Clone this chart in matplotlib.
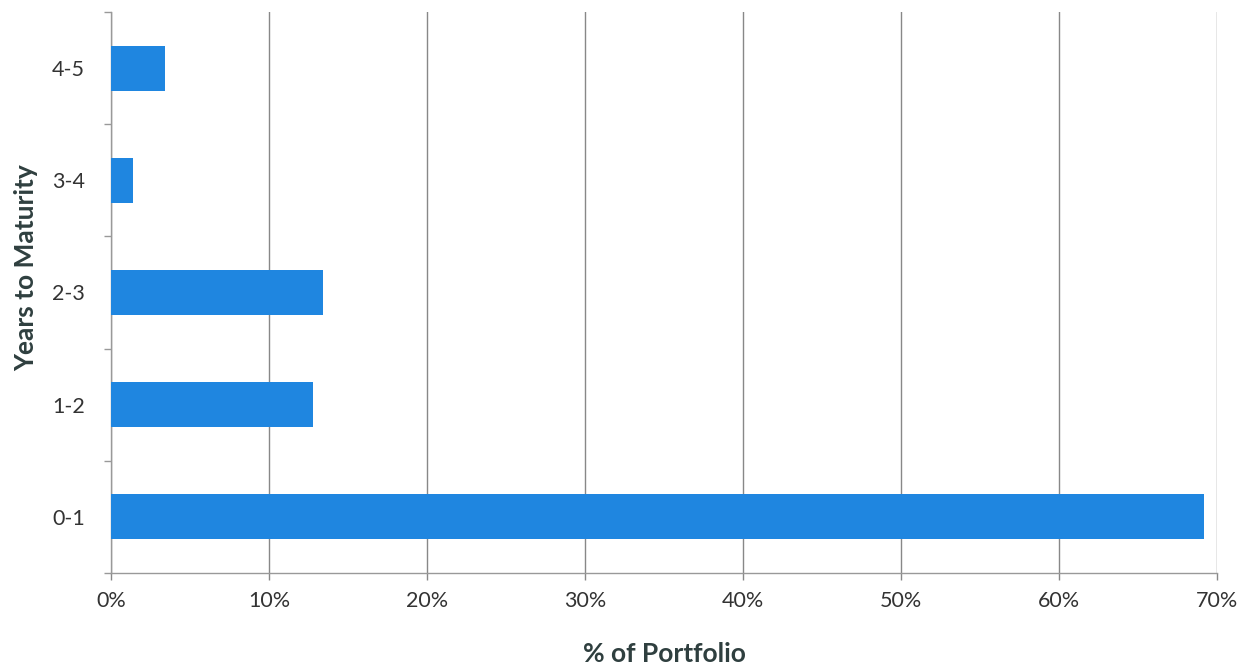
import numpy as np
import matplotlib.pyplot as plt
from matplotlib.ticker import FixedLocator

# years-to-maturity buckets and share of portfolio (%)
buckets = ['0-1', '1-2', '2-3', '3-4', '4-5']
share = [69.2, 12.8, 13.4, 1.4, 3.4]
xticks = [0, 10, 20, 30, 40, 50, 60, 70]
xticklabels = ['0%', '10%', '20%', '30%', '40%', '50%', '60%', '70%']

plt.rcParams['font.family'] = ['Lato', 'DejaVu Sans']

fig = plt.figure(figsize=(12.52, 6.70), dpi=100)
ax = fig.add_axes([0.0887, 0.1448, 0.8834, 0.8373])

y = np.arange(len(buckets))
ax.barh(y, share, height=0.4, color='#1f86e0', zorder=3)

ax.set_xlim(0, 70)
ax.set_ylim(-0.5, len(buckets) - 0.5)

ax.set_xticks(xticks)
ax.set_xticklabels(xticklabels, fontsize=15.5, color='#333333')
ax.set_yticks(y)
ax.set_yticklabels(buckets, fontsize=15.5, color='#333333')
ax.yaxis.set_minor_locator(FixedLocator(np.arange(-0.5, len(buckets), 1.0)))

ax.tick_params(axis='y', which='major', length=0, pad=19)
ax.tick_params(axis='y', which='minor', length=5, color='#999999', width=1)
ax.tick_params(axis='x', length=5, color='#888888', width=1, pad=8)

ax.grid(axis='x', color='#888888', linewidth=1, zorder=0)
for s in ['top', 'right']:
    ax.spines[s].set_visible(False)
for s in ['left', 'bottom']:
    ax.spines[s].set_color('#999999')
    ax.spines[s].set_linewidth(1)

ax.set_xlabel('% of Portfolio', fontsize=19, fontweight='bold', color='#2f3f3f', labelpad=22)
ax.set_ylabel('Years to Maturity', fontsize=19, fontweight='bold', color='#2f3f3f')
ax.yaxis.set_label_coords(-0.066, 0.545)

fig.savefig('out.png', dpi=100, facecolor='white')
